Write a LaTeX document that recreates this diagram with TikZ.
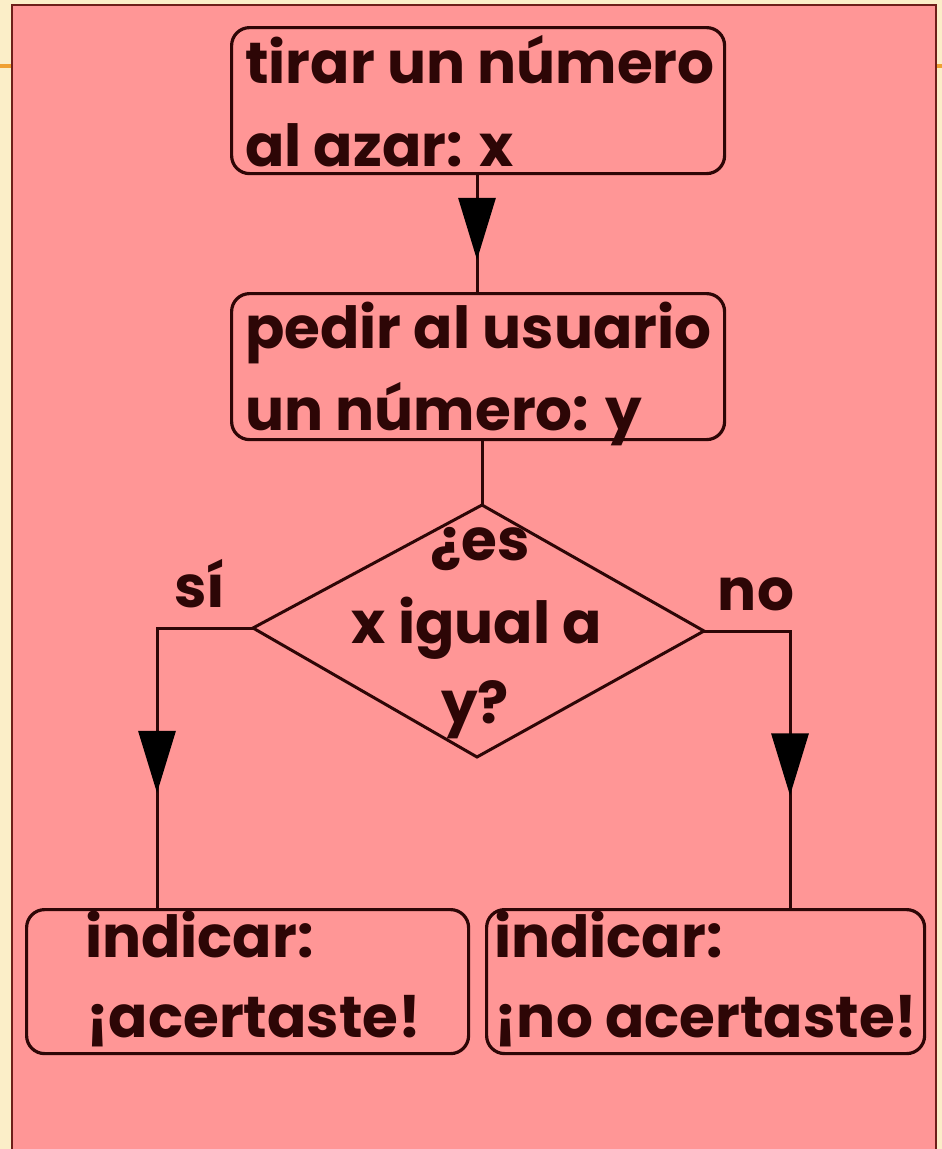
\documentclass[tikz,border=0pt]{standalone}
\usepackage{fontspec}
\setmainfont{Poppins}
\usetikzlibrary{arrows.meta,decorations.markings}
\definecolor{beige}{RGB}{251,238,200}
\definecolor{pinkbg}{RGB}{255,150,150}
\definecolor{ink}{RGB}{45,6,6}
\definecolor{edge}{RGB}{110,30,25}
\definecolor{orangeline}{RGB}{240,160,50}
\tikzset{
  box/.style={draw=ink, line width=3.2pt, rounded corners=18pt, inner sep=0pt, anchor=north west},
  txt/.style={anchor=base west, inner sep=0pt, text=ink, font=\fontsize{58}{64}\selectfont\bfseries},
  ctxt/.style={anchor=base, inner sep=0pt, text=ink, font=\fontsize{58}{64}\selectfont\bfseries},
  conn/.style={draw=ink, line width=3pt},
  midarrow/.style={postaction={decorate}, decoration={markings, mark=at position #1 with {\arrow[black]{Triangle[length=62pt,width=37pt]}}}}
}
\begin{document}
\begin{tikzpicture}[x=1pt,y=-1pt]
\useasboundingbox (0,0) rectangle (942,1149);
% slide background
\fill[beige] (0,0) rectangle (942,1149);
\fill[orangeline] (0,64) rectangle (942,68);
\fill[pinkbg] (12,5) rectangle (936,1149);
\draw[edge, line width=2pt] (12,1149) -- (12,5) -- (936,5) -- (936,1149);
% boxes
\node[box, minimum width=493pt, minimum height=146pt] (b1) at (230,26) {};
\node[box, minimum width=493pt, minimum height=146pt] (b2) at (230,292) {};
\node[box, minimum width=442pt, minimum height=144pt] (b3) at (25,908) {};
\node[box, minimum width=438pt, minimum height=144pt] (b4) at (485,908) {};
% texts
\node[txt] (t1a) at (245,83) {tirar un número};
\node[txt] (t1b) at (245,166) {al azar: x};
\node[txt] (t2a) at (245,348) {pedir al usuario};
\node[txt] (t2b) at (245,430) {un número: y};
\node[txt] (t3a) at (85,957) {indicar:};
\node[txt] (t3b) at (86,1037) {¡acertaste!};
\node[txt] (t4a) at (494,957) {indicar:};
\node[txt] (t4b) at (494,1037) {¡no acertaste!};
% diamond
\coordinate (dT) at (482,505);
\coordinate (dL) at (253,628);
\coordinate (dR) at (704,631);
\coordinate (dB) at (477,757);
\draw[ink, line width=3pt, line join=miter] (dT) -- (dR) -- (dB) -- (dL) -- cycle;
\node[ctxt] (q1) at (480,560) {¿es};
\node[ctxt] (q2) at (477,643) {x igual a};
\node[ctxt] (q3) at (475,723) {y?};
% labels
\node[ctxt] (si) at (200,607) {sí};
\node[ctxt] (no) at (756,610) {no};
% connectors
\coordinate (inL) at (157,908);
\coordinate (inR) at (790,908);
\coordinate (top1) at (477,172);
\coordinate (top2) at (477,292);
\draw[conn, midarrow=0.725] (b1.south -| top1) -- (b2.north -| top2);
\draw[conn] (b2.south -| dT) -- (dT);
\draw[conn, midarrow=0.694] (dL) -| (inL);
\draw[conn, midarrow=0.69] (dR) -| (inR);
\end{tikzpicture}
\end{document}
